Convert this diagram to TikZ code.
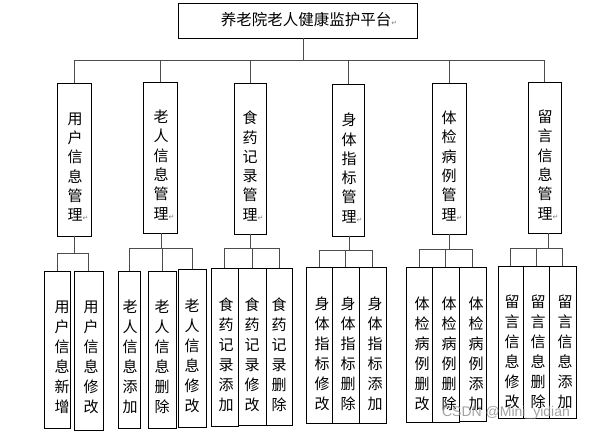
\documentclass[tikz,border=0pt]{standalone}
\usepackage{fontspec}
\newfontfamily\cjk{Noto Sans CJK SC}
\newfontfamily\dvs{DejaVu Sans}
\newfontfamily\wmfont{Liberation Sans}
\newcommand\retmark{\makebox[0pt][l]{\textcolor{gray}{\dvs\fontsize{7}{7}\selectfont ↵}}}
\begin{document}
\begin{tikzpicture}[x=1pt,y=-1pt,
  box/.style={draw, line width=0.9pt, inner sep=0pt},
  conn/.style={draw=black!70, line width=1pt},
  midtext/.style={font=\cjk\fontsize{15}{19.3}\selectfont, align=center, inner sep=0pt},
  leaftext/.style={font=\cjk\fontsize{15}{20}\selectfont, align=center, inner sep=0pt}]
\useasboundingbox[fill=white] (0,0) rectangle (592,433);

% top
\node[box, minimum width=239pt, minimum height=35pt] (top) at (297.5,20.5) {};
\node[font=\cjk\fontsize{15.5}{18}\selectfont, inner sep=0pt] (title) at (306,19.5) {养老院老人健康监护平台\retmark};
\coordinate (tj) at (303,61);

% mid boxes
\node[box, minimum width=34pt, minimum height=153pt] (m1) at (74,159.5) {};
\node[box, minimum width=34pt, minimum height=151pt] (m2) at (160,157.5) {};
\node[box, minimum width=32pt, minimum height=151pt] (m3) at (250,158.5) {};
\node[box, minimum width=32pt, minimum height=152pt] (m4) at (348,160) {};
\node[box, minimum width=34pt, minimum height=151pt] (m5) at (449,158.5) {};
\node[box, minimum width=33pt, minimum height=151pt] (m6) at (544.5,157.5) {};

\node[midtext] (t1) at (75,167) {用\\户\\信\\息\\管\\理\retmark};
\node[midtext] (t2) at (161,165) {老\\人\\信\\息\\管\\理\retmark};
\node[midtext] (t3) at (250,166) {食\\药\\记\\录\\管\\理\retmark};
\node[midtext] (t4) at (349,168) {身\\体\\指\\标\\管\\理\retmark};
\node[midtext] (t5) at (449,166) {体\\检\\病\\例\\管\\理\retmark};
\node[midtext] (t6) at (545,165) {留\\言\\信\\息\\管\\理\retmark};

% top bus
\draw[conn] (top.south -| tj) -- (tj);
\draw[conn] (m1.north) -- (m1.north |- tj) -- (m6.north |- tj) -- (m6.north);
\foreach \m in {m2,m3,m4,m5} \draw[conn] (\m.north) -- (\m.north |- tj);

% leaves group 1
\node[box, minimum width=26pt, minimum height=157pt] (l11) at (57,349.5) {};
\node[box, minimum width=29pt, minimum height=159pt] (l12) at (88.5,350.5) {};
% group 2
\node[box, minimum width=22pt, minimum height=157pt] (l21) at (129,349.5) {};
\node[box, minimum width=28pt, minimum height=157pt] (l22) at (162,349.5) {};
\node[box, minimum width=28pt, minimum height=158pt] (l23) at (192,348) {};
% group 3
\node[box, minimum width=27pt, minimum height=158pt] (l31) at (224.5,347) {};
\node[box, minimum width=28pt, minimum height=157pt] (l32) at (252,346.5) {};
\node[box, minimum width=26pt, minimum height=157pt] (l33) at (279,346.5) {};
% group 4
\node[box, minimum width=26pt, minimum height=156pt] (l41) at (319,345) {};
\node[box, minimum width=27pt, minimum height=156pt] (l42) at (345.5,345) {};
\node[box, minimum width=27pt, minimum height=156pt] (l43) at (372.5,345) {};
% group 5
\node[box, minimum width=26pt, minimum height=155pt] (l51) at (419,344.5) {};
\node[box, minimum width=27pt, minimum height=155pt] (l52) at (445.5,344.5) {};
\node[box, minimum width=27pt, minimum height=154pt] (l53) at (472.5,344) {};
% group 6
\node[box, minimum width=25pt, minimum height=152pt] (l61) at (510.5,342) {};
\node[box, minimum width=26pt, minimum height=152pt] (l62) at (536,342) {};
\node[box, minimum width=27pt, minimum height=152pt] (l63) at (562.5,342) {};

% leaf texts
\node[leaftext] (s11) at (62,357) {用\\户\\信\\息\\新\\增};
\node[leaftext] (s12) at (91,357) {用\\户\\信\\息\\修\\改};
\node[leaftext] (s21) at (130,357) {老\\人\\信\\息\\添\\加};
\node[leaftext] (s22) at (162,357) {老\\人\\信\\息\\删\\除};
\node[leaftext] (s23) at (192,356) {老\\人\\信\\息\\修\\改};
\node[leaftext] (s31) at (226,355) {食\\药\\记\\录\\添\\加};
\node[leaftext] (s32) at (252,355) {食\\药\\记\\录\\修\\改};
\node[leaftext] (s33) at (279,355) {食\\药\\记\\录\\删\\除};
\node[leaftext] (s41) at (322,354) {身\\体\\指\\标\\修\\改};
\node[leaftext] (s42) at (348,354) {身\\体\\指\\标\\删\\除};
\node[leaftext] (s43) at (375,354) {身\\体\\指\\标\\添\\加};
\node[leaftext] (s51) at (422,354) {体\\检\\病\\例\\删\\改};
\node[leaftext] (s52) at (449,354) {体\\检\\病\\例\\删\\除};
\node[leaftext] (s53) at (476,354) {体\\检\\病\\例\\添\\加};
\node[leaftext] (s61) at (512,352) {留\\言\\信\\息\\修\\改};
\node[leaftext] (s62) at (538,352) {留\\言\\信\\息\\删\\除};
\node[leaftext] (s63) at (565,352) {留\\言\\信\\息\\添\\加};

% group connectors
\coordinate (g1) at (74,253);
\coordinate (g2) at (161,248);
\coordinate (g3) at (250,248);
\coordinate (g4) at (349,250);
\coordinate (g5) at (449,249);
\coordinate (g6) at (548,248);
\draw[conn] (m1.south -| g1) -- (g1);
\draw[conn] (m2.south -| g2) -- (g2);
\draw[conn] (m3.south -| g3) -- (g3);
\draw[conn] (m4.south -| g4) -- (g4);
\draw[conn] (m5.south -| g5) -- (g5);
\draw[conn] (m6.south -| g6) -- (g6);
\draw[conn] (l11.north) -- (l11.north |- g1) -- (l12.north |- g1) -- (l12.north);
\draw[conn] (l21.north) -- (l21.north |- g2) -- (l23.north |- g2) -- (l23.north);
\draw[conn] (l22.north) -- (l22.north |- g2);
\draw[conn] (l31.north) -- (l31.north |- g3) -- (l33.north |- g3) -- (l33.north);
\draw[conn] (l32.north) -- (l32.north |- g3);
\draw[conn] (l41.north) -- (l41.north |- g4) -- (l43.north |- g4) -- (l43.north);
\draw[conn] (l42.north) -- (l42.north |- g4);
\draw[conn] (l51.north) -- (l51.north |- g5) -- (l53.north |- g5) -- (l53.north);
\draw[conn] (l52.north) -- (l52.north |- g5);
\draw[conn] (l61.north) -- (l61.north |- g6) -- (l63.north |- g6) -- (l63.north);
\draw[conn] (l62.north) -- (l62.north |- g6);

% watermark
\node[font=\wmfont\fontsize{14}{14}\selectfont, text=black!45, opacity=0.8, inner sep=0pt] (wm) at (506,413) {CSDN @Mini\_yidian};
\end{tikzpicture}
\end{document}
